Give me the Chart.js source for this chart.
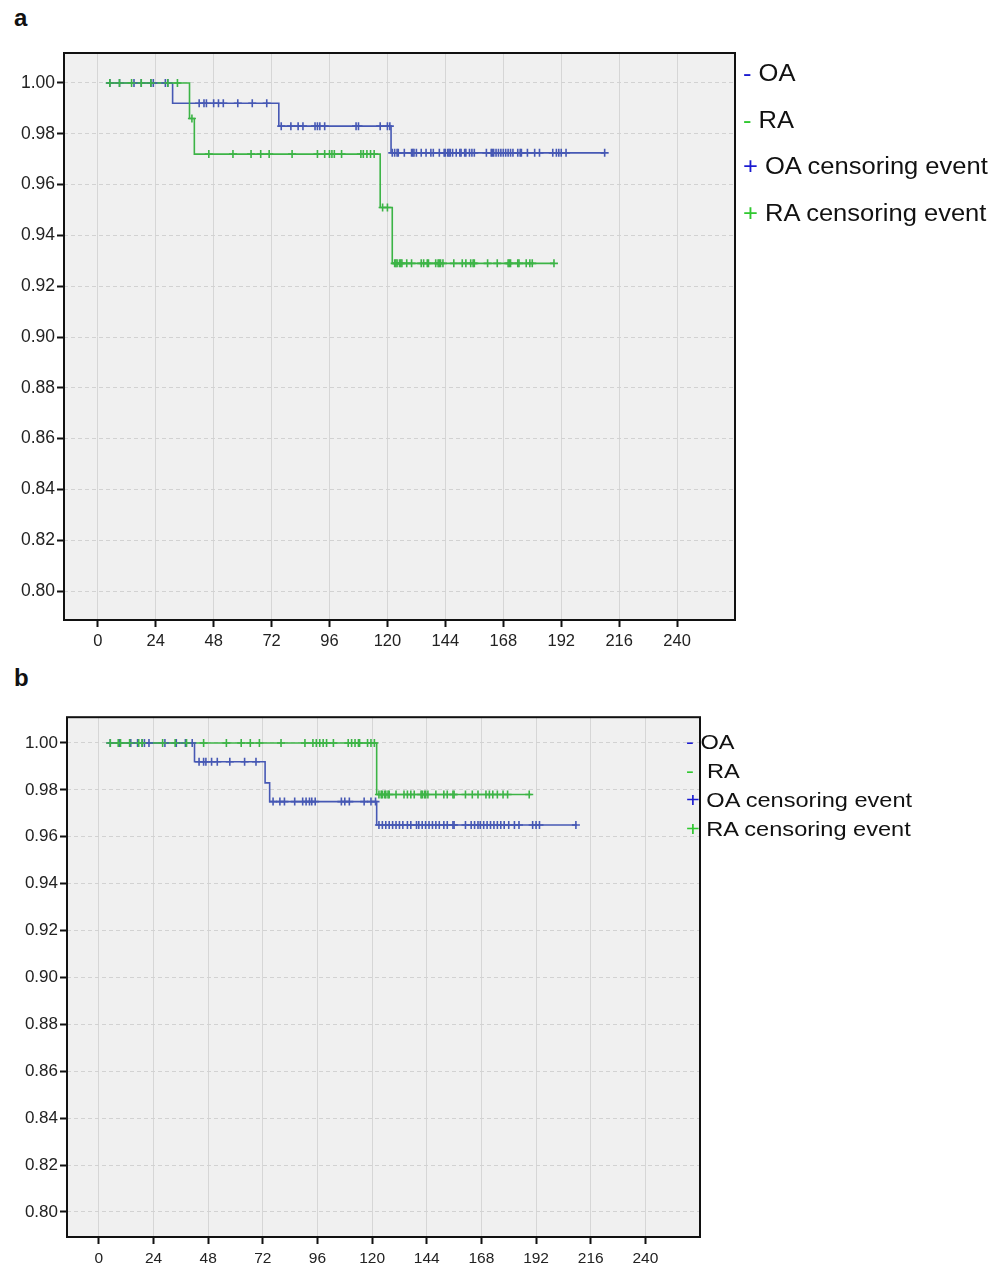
<!DOCTYPE html>
<html>
<head>
<meta charset="utf-8">
<script src="https://cdn.jsdelivr.net/npm/chart.js"></script>
<style>
  body { margin:0; width:1006px; height:1269px; background:#fff; position:relative; overflow:hidden;
         font-family:"Liberation Sans", Arial, sans-serif; color:#111; }
  canvas { position:absolute; left:0; }
  .lbl { position:absolute; left:14px; font-weight:bold; font-size:24px; }
  .legend { position:absolute; white-space:nowrap; transform-origin:left top; }
  .blue { color:#1a1ad0; }
  .green { color:#30c830; }
</style>
</head>
<body>
<div class="lbl" style="top:4px">a</div>
<canvas id="chartA" width="745" height="620" style="top:40px"></canvas>
<div class="legend" style="left:743px; top:50px; font-size:23px; line-height:46.5px; transform:scaleX(1.11)">
  <div><span class="blue">-</span> OA</div>
  <div><span class="green">-</span> RA</div>
  <div><span class="blue">+</span> OA censoring event</div>
  <div><span class="green">+</span> RA censoring event</div>
</div>

<div class="lbl" style="top:664px">b</div>
<canvas id="chartB" width="710" height="564" style="top:705px"></canvas>
<div class="legend" style="left:686px; top:727px; font-size:20.5px; line-height:29px; transform:scaleX(1.15)">
  <div><span class="blue">-</span> OA</div>
  <div><span class="green">-</span>&nbsp; RA</div>
  <div><span class="blue">+</span> OA censoring event</div>
  <div><span class="green">+</span> RA censoring event</div>
</div>

<script>
const xTicks = [0, 24, 48, 72, 96, 120, 144, 168, 192, 216, 240];
const yTicks = [0.80, 0.82, 0.84, 0.86, 0.88, 0.90, 0.92, 0.94, 0.96, 0.98, 1.00];

// panel a - step points (time, cumulative survival)
const aOaTime = [4, 31, 75, 121.5, 210];
const aOaSurv = [1.00, 0.992, 0.983, 0.9725, 0.9725];
const aRaTime = [4, 38, 40, 117, 122, 189];
const aRaSurv = [1.00, 0.986, 0.972, 0.951, 0.929, 0.929];
// censoring times
const aOaCens = [5, 9, 15, 18, 22, 23, 28, 29,
  42, 44, 45, 48, 50, 52, 58, 64, 70,
  76, 80, 83, 85, 90, 91, 92, 94, 107, 108, 117, 120, 121,
  122, 123, 124, 124.5, 127, 130, 130.5, 131, 132, 134, 136, 138, 139, 141.5, 143.5, 144, 145, 145.5,
  146, 147, 148.5, 150, 150.5, 152, 152.5, 154, 155, 156, 161, 163, 163.5, 164, 165, 166, 167, 168,
  169, 170, 171, 172, 174, 175, 175.5, 178, 181, 183, 188.5, 190, 191, 192, 194, 210];
const aRaCens = [5, 9, 14, 18, 22, 29, 33,
  39,
  46, 56, 63.5, 67.5, 71, 80.5, 91, 94, 96, 97, 98, 101, 109, 110, 111.5, 113, 114.5,
  118, 120,
  123, 123.5, 124, 125, 125.5, 126, 128, 130, 134, 135, 136.5, 137, 140, 141, 141.5, 142, 143,
  147.5, 151, 152.5, 154.5, 155.5, 156, 161.5, 165.5, 170, 170.5, 171, 174, 174.5, 177.5, 179, 180, 189];

// panel b
const bOaTime = [4, 42, 73, 75, 122, 210];
const bOaSurv = [1.00, 0.992, 0.983, 0.975, 0.965, 0.965];
const bRaTime = [4, 122, 190];
const bRaSurv = [1.00, 0.978, 0.978];
const bOaCens = [5, 9, 14, 17, 19, 20, 22, 29, 34, 38, 41,
  44, 46, 47, 49.5, 52, 57.5, 64, 69,
  76.5, 79.5, 81.5, 86, 89.5, 91, 92.5, 93.5, 95, 106.5, 108, 110, 116.5, 119.5, 121.5,
  123, 124.5, 126, 127.5, 129, 130.5, 132, 133.5, 135.5, 137, 139.5, 140.5, 142, 143.5, 145, 146.5,
  148, 149.5, 151.5, 153, 155.5, 156, 161, 163.5, 165, 166.5, 167.5, 169, 170.5, 172, 173.5, 175,
  176.5, 178, 180, 182.5, 184.5, 190.5, 192, 193.5, 209.5];
const bRaCens = [5, 8.5, 9.5, 13.5, 17.5, 19, 28, 33.5, 38.5, 46, 56, 62.5, 66.5, 70.5, 80, 90.5, 94,
  95.5, 97, 98.5, 100, 103, 109.5, 111, 112.5, 114, 114.5, 118, 119.5, 121,
  123, 124, 124.5, 125.5, 126, 127, 127.5, 130.5, 134, 135.5, 137, 138.5, 141.5, 142, 143, 143.5,
  144.5, 148, 151.5, 153, 155.5, 156, 161, 164, 166.5, 170, 171.5, 173, 175, 177.5, 179.5, 189];

const oaColor = '#4658b4';
const raColor = '#3cb446';

function survAt(times, surv, t) {
  let v = surv[0];
  times.forEach((tm, i) => { if (tm <= t) v = surv[i]; });
  return v;
}

const frame = {
  id: 'frame',
  beforeDraw(chart) {
    const {ctx, chartArea: a} = chart;
    ctx.save();
    ctx.fillStyle = '#f0f0f0';
    ctx.fillRect(a.left, a.top, a.width, a.height);
    ctx.restore();
  },
  afterDraw(chart) {
    const {ctx, chartArea: a} = chart;
    ctx.save();
    ctx.strokeStyle = '#111';
    ctx.lineWidth = 2;
    ctx.strokeRect(a.left, a.top, a.width, a.height);
    ctx.restore();
  }
};

function makePanel(id, p) {
  const pts = (times, surv) => times.map((t, i) => ({x: t, y: surv[i]}));
  const cens = (c, times, surv) => c.map(t => ({x: t, y: survAt(times, surv, t)}));
  return new Chart(document.getElementById(id), {
    type: 'scatter',
    data: {
      datasets: [
        { data: cens(p.raCens, p.raTime, p.raSurv), pointStyle: 'cross', pointRadius: 4,
          borderColor: raColor, borderWidth: 1.6, order: 0 },
        { data: cens(p.oaCens, p.oaTime, p.oaSurv), pointStyle: 'cross', pointRadius: 4,
          borderColor: oaColor, borderWidth: 1.6, order: 1 },
        { data: pts(p.raTime, p.raSurv), showLine: true, stepped: 'before', pointRadius: 0,
          borderColor: raColor, borderWidth: 1.6, order: 2 },
        { data: pts(p.oaTime, p.oaSurv), showLine: true, stepped: 'before', pointRadius: 0,
          borderColor: oaColor, borderWidth: 1.6, order: 3 }
      ]
    },
    options: {
      responsive: false,
      animation: false,
      layout: { padding: { top: p.padTop, right: p.padRight, left: 0, bottom: 0 } },
      scales: {
        x: {
          type: 'linear', min: -14, max: 264,
          afterBuildTicks: s => { s.ticks = xTicks.map(v => ({value: v})); },
          afterFit: s => { s.height = p.xHeight; },
          grid: { color: '#d6d6d6', lineWidth: 1, tickLength: 7, tickColor: '#111', tickWidth: 2 },
          border: { display: false },
          ticks: { font: { size: p.xFont, family: '"Liberation Sans", Arial' }, color: '#222',
                   padding: 5, maxRotation: 0, autoSkip: false }
        },
        y: {
          min: p.yMin, max: p.yMax,
          afterBuildTicks: s => { s.ticks = yTicks.map(v => ({value: v})); },
          afterFit: s => { s.width = p.yWidth; },
          grid: { color: '#d2d2d2', lineWidth: 1, tickLength: 7, tickColor: '#111', tickWidth: 2 },
          border: { display: false, dash: [4, 3] },
          ticks: { font: { size: p.yFont, family: '"Liberation Sans", Arial' }, color: '#222',
                   padding: 2, callback: v => v.toFixed(2) }
        }
      },
      plugins: { legend: { display: false }, tooltip: { enabled: false } }
    },
    plugins: [frame]
  });
}

makePanel('chartA', {
  oaTime: aOaTime, oaSurv: aOaSurv, raTime: aRaTime, raSurv: aRaSurv,
  oaCens: aOaCens, raCens: aRaCens,
  yMin: 0.7886, yMax: 1.0118, yWidth: 64, xHeight: 40, padTop: 13, padRight: 10,
  xFont: 16.5, yFont: 17.5
});

makePanel('chartB', {
  oaTime: bOaTime, oaSurv: bOaSurv, raTime: bRaTime, raSurv: bRaSurv,
  oaCens: bOaCens, raCens: bRaCens,
  yMin: 0.7893, yMax: 1.011, yWidth: 67, xHeight: 32, padTop: 12, padRight: 10,
  xFont: 15.5, yFont: 17
});
</script>
</body>
</html>
